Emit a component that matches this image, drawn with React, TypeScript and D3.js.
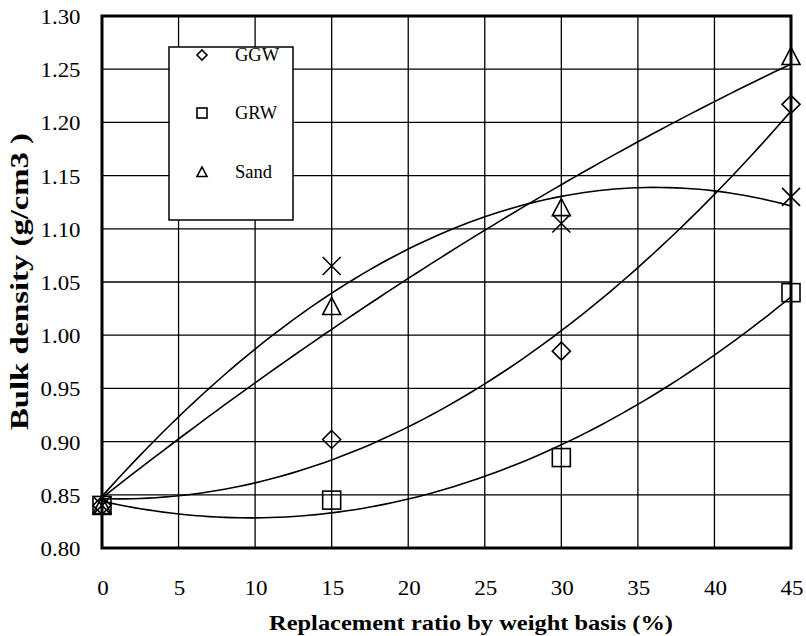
import React from "react";
import * as d3 from "d3";

const xValues = [0, 15, 30, 45];
const ggw = [0.84, 0.902, 0.985, 1.217];
const grw = [0.84, 0.845, 0.885, 1.04];
const sand = [0.84, 1.027, 1.12, 1.262];
const xSeries = [0.84, 1.065, 1.105, 1.13];
const xTicks = [0, 5, 10, 15, 20, 25, 30, 35, 40, 45];
const yTicks = [0.8, 0.85, 0.9, 0.95, 1.0, 1.05, 1.1, 1.15, 1.2, 1.25, 1.3];
const legendItems = ["GGW", "GRW", "Sand"];

const W = 806, H = 636;
const L = 102, R = 791, T = 16, B = 548;
const FONT = "Liberation Serif, DejaVu Serif, serif";

// quadratic least squares fit (polynomial trendline)
function quadFit(xs: number[], ys: number[]) {
  const n = xs.length;
  const s = [0, 0, 0, 0, 0];
  const t = [0, 0, 0];
  for (let i = 0; i < n; i++) {
    for (let k = 0; k < 5; k++) s[k] += Math.pow(xs[i], k);
    for (let k = 0; k < 3; k++) t[k] += ys[i] * Math.pow(xs[i], k);
  }
  const A = [
    [s[0], s[1], s[2], t[0]],
    [s[1], s[2], s[3], t[1]],
    [s[2], s[3], s[4], t[2]],
  ];
  for (let i = 0; i < 3; i++) {
    let p = i;
    for (let r = i + 1; r < 3; r++) if (Math.abs(A[r][i]) > Math.abs(A[p][i])) p = r;
    [A[i], A[p]] = [A[p], A[i]];
    for (let r = 0; r < 3; r++) {
      if (r === i) continue;
      const f = A[r][i] / A[i][i];
      for (let c = i; c < 4; c++) A[r][c] -= f * A[i][c];
    }
  }
  const c = [A[0][3] / A[0][0], A[1][3] / A[1][1], A[2][3] / A[2][2]];
  return (x: number) => c[0] + c[1] * x + c[2] * x * x;
}

const x = d3.scaleLinear().domain([0, 45]).range([L, R]);
const y = d3.scaleLinear().domain([0.8, 1.3]).range([B, T]);

function Marker({ kind, cx, cy, s }: { kind: string; cx: number; cy: number; s: number }) {
  const h = s / 2;
  const st = { fill: "none", stroke: "#000", strokeWidth: 1.6 };
  if (kind === "diamond")
    return <path d={`M${cx},${cy - h}L${cx + h},${cy}L${cx},${cy + h}L${cx - h},${cy}Z`} {...st} />;
  if (kind === "square")
    return <rect x={cx - h} y={cy - h} width={s} height={s} {...st} />;
  if (kind === "triangle")
    return <path d={`M${cx},${cy - h}L${cx + h},${cy + h * 0.9}L${cx - h},${cy + h * 0.9}Z`} {...st} />;
  return <path d={`M${cx - h},${cy - h}L${cx + h},${cy + h}M${cx + h},${cy - h}L${cx - h},${cy + h}`} {...st} />;
}

const txt = { fontFamily: FONT, fill: "#000" } as React.CSSProperties;

export default function App() {
  const series = [
    { vals: ggw, kind: "diamond" },
    { vals: grw, kind: "square" },
    { vals: sand, kind: "triangle" },
    { vals: xSeries, kind: "cross" },
  ];
  const samples = d3.range(0, 45.001, 0.5);
  return (
    <svg width={W} height={H} style={{ position: "absolute", left: 0, top: 0, background: "#fff" }}>
      <rect x={0} y={0} width={W} height={H} fill="#fff" />
      {xTicks.map((t) => (
        <line key={"gx" + t} x1={x(t)} x2={x(t)} y1={T} y2={B} stroke="#000" strokeWidth={1.3} />
      ))}
      {yTicks.map((t) => (
        <line key={"gy" + t} x1={L} x2={R} y1={y(t)} y2={y(t)} stroke="#000" strokeWidth={1.3} />
      ))}
      <rect x={169} y={47} width={124} height={173} fill="#fff" stroke="#000" strokeWidth={1.5} />
      {legendItems.map((name, i) => {
        const cy = [55, 113, 172][i];
        return (
          <g key={name}>
            <Marker kind={["diamond", "square", "triangle"][i]} cx={202} cy={cy} s={10} />
            <text x={235} y={cy + 6} fontSize={18.5} style={txt}>{name}</text>
          </g>
        );
      })}
      {series.map((s, i) => {
        const f = quadFit(xValues, s.vals);
        const path = d3.line<number>().x((d) => x(d)).y((d) => y(f(d)))(samples);
        return <path key={"tl" + i} d={path || ""} fill="none" stroke="#000" strokeWidth={1.6} />;
      })}
      <rect x={L} y={T} width={R - L} height={B - T} fill="none" stroke="#000" strokeWidth={3} />
      {series.map((s, i) =>
        s.vals.map((v, j) => (
          <Marker key={`m${i}-${j}`} kind={s.kind} cx={x(xValues[j])} cy={y(v)} s={18} />
        ))
      )}
      {yTicks.map((t) => (
        <text key={"yl" + t} x={40.5} y={y(t) + 8} fontSize={20} textLength={40} lengthAdjust="spacingAndGlyphs" style={txt}>
          {t.toFixed(2)}
        </text>
      ))}
      {xTicks.map((t) => {
        const s = String(t);
        const w = s.length * 11.5;
        return (
          <text key={"xl" + t} x={x(t) - w / 2 + 1} y={595} fontSize={21} textLength={w} lengthAdjust="spacingAndGlyphs" style={txt}>
            {s}
          </text>
        );
      })}
      <text x={269} y={630} fontSize={22} fontWeight="bold" textLength={404} lengthAdjust="spacingAndGlyphs" style={txt}>
        Replacement ratio by weight basis (%)
      </text>
      <text transform="translate(28,430) rotate(-90)" fontSize={25} fontWeight="bold" textLength={297} lengthAdjust="spacingAndGlyphs" style={txt}>
        Bulk density (g/cm3 )
      </text>
    </svg>
  );
}
